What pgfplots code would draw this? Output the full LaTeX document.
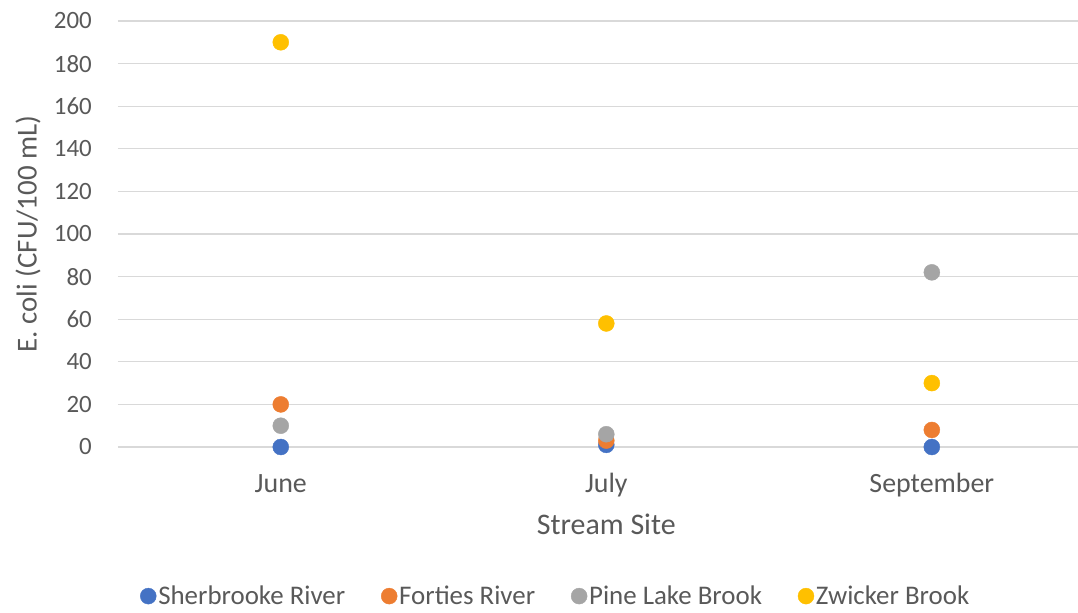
\documentclass[border=0pt]{standalone}
\usepackage{pgfplots}
\pgfplotsset{compat=1.18}
\usepackage{fontspec}
\setmainfont{Carlito}
\definecolor{sb}{HTML}{4472C4}
\definecolor{fr}{HTML}{ED7D31}
\definecolor{pl}{HTML}{A5A5A5}
\definecolor{zb}{HTML}{FFC000}
\definecolor{txt}{HTML}{595959}
\definecolor{grd}{HTML}{D9D9D9}
\begin{document}
\begin{tikzpicture}
\path[use as bounding box] (-118bp,-166bp) rectangle (960bp,447bp);
\begin{axis}[
  at={(0,0)}, anchor=south west,
  scale only axis, width=960bp, height=426bp,
  xmin=-0.5, xmax=2.449, ymin=0, ymax=200,
  xtick={0,1,2}, xticklabels={June,July,September},
  ytick distance=20,
  ymajorgrids, grid style={grd, line width=1.3bp},
  axis line style={draw=none},
  major tick length=0pt,
  clip=false,
  /pgf/number format/assume math mode=true,
  yticklabel style={font=\fontsize{25}{30}\selectfont, text=txt, inner sep=0pt, anchor=east, xshift=-26bp},
  xticklabel style={font=\fontsize{28}{33}\selectfont, text=txt, inner sep=0pt, anchor=base, yshift=-45bp},
  every axis x label/.style={at={(axis cs:1,0)}, anchor=base, yshift=-87bp, font=\fontsize{30}{36}\selectfont, text=txt},
  every axis y label/.style={at={(axis description cs:0,0.5)}, rotate=90, anchor=center, yshift=90bp, font=\fontsize{29}{35}\selectfont, text=txt},
  xlabel={Stream Site},
  ylabel={E. coli (CFU/100 mL)},
  legend style={draw=none, fill=none, at={(axis description cs:0.456,-0.350)}, anchor=center,
    font=\fontsize{27}{32}\selectfont, text=txt,
    /tikz/every even column/.append style={column sep=34bp}},
  legend columns=4, legend cell align=left,
  legend image code/.code={\draw[#1] plot coordinates {(0bp,0bp)};},
]
\addplot[only marks, mark=*, mark size=8bp, mark options={draw=sb, fill=sb}] coordinates {(0,0) (1,1) (2,0)};
\addlegendentry{Sherbrooke River}
\addplot[only marks, mark=*, mark size=8bp, mark options={draw=fr, fill=fr}] coordinates {(0,20) (1,3) (2,8)};
\addlegendentry{Forties River}
\addplot[only marks, mark=*, mark size=8bp, mark options={draw=pl, fill=pl}] coordinates {(0,10) (1,6) (2,82)};
\addlegendentry{Pine Lake Brook}
\addplot[only marks, mark=*, mark size=8bp, mark options={draw=zb, fill=zb}] coordinates {(0,190) (1,58) (2,30)};
\addlegendentry{Zwicker Brook}
\end{axis}
\end{tikzpicture}
\end{document}
